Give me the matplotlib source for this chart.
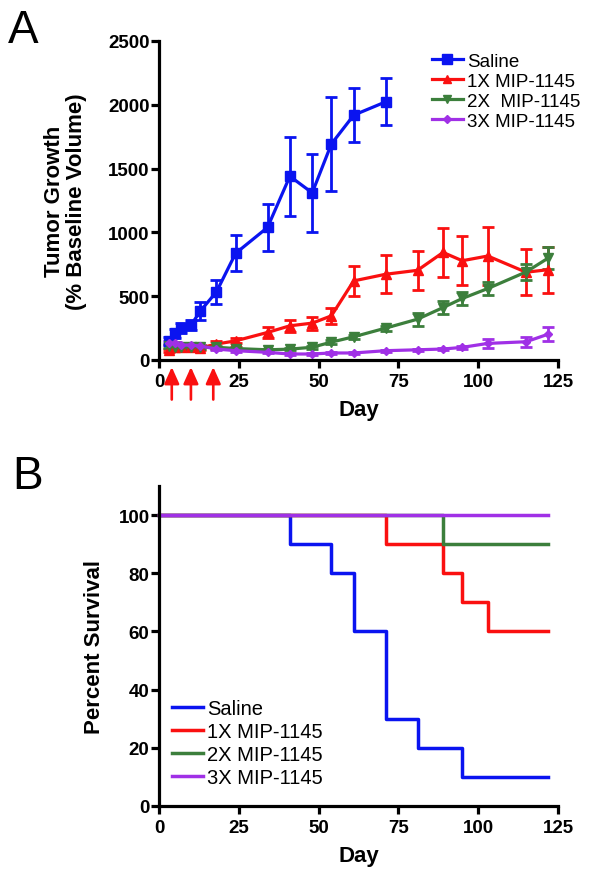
import matplotlib
matplotlib.use("Agg")
import matplotlib.pyplot as plt
from matplotlib.lines import Line2D

plt.rcParams['font.family'] = ['Liberation Sans', 'DejaVu Sans']

# ---------------- Data ----------------
days = [3, 5, 7, 10, 13, 18, 24, 34, 41, 48, 54, 61, 71, 81, 89, 95, 103, 115, 122]
saline_days = [3, 5, 7, 10, 13, 18, 24, 34, 41, 48, 54, 61, 71]
saline_mean = [150, 210, 250, 273, 385, 534, 836, 1039, 1440, 1310, 1693, 1919, 2023]
saline_err = [30, 35, 40, 40, 72, 95, 140, 185, 310, 305, 370, 210, 185]

mip1_mean = [75, 100, 105, 100, 95, 125, 150, 216, 268, 289, 346, 620, 672, 703, 843, 778, 815, 688, 708]
mip1_err = [10, 15, 20, 20, 20, 20, 20, 40, 45, 50, 60, 115, 150, 155, 195, 190, 225, 180, 180]

mip2_mean = [110, 105, 100, 105, 100, 100, 90, 80, 85, 100, 140, 182, 250, 320, 411, 482, 560, 690, 800]
mip2_err = [15, 15, 15, 15, 15, 10, 10, 10, 10, 10, 15, 15, 20, 50, 52, 52, 50, 60, 85]

mip3_mean = [133, 130, 117, 117, 109, 86, 73, 60, 47, 47, 55, 55, 73, 80, 86, 99, 130, 143, 203]
mip3_err = [15, 12, 10, 10, 10, 10, 10, 8, 8, 8, 8, 8, 8, 8, 8, 10, 38, 40, 55]

dose_days = [4, 10, 17]

# Survival (Kaplan-Meier step data)
saline_surv_t = [0, 41, 54, 61, 71, 81, 95, 122]
saline_surv = [100, 90, 80, 60, 30, 20, 10, 10]
mip1_surv_t = [0, 71, 89, 95, 103, 122]
mip1_surv = [100, 90, 80, 70, 60, 60]
mip2_surv_t = [0, 89, 122]
mip2_surv = [100, 90, 90]
mip3_surv_t = [0, 122]
mip3_surv = [100, 100]

labels_a = ['Saline', '1X MIP-1145', '2X  MIP-1145', '3X MIP-1145']
labels_b = ['Saline', '1X MIP-1145', '2X MIP-1145', '3X MIP-1145']
colors = ['#0A14F0', '#FA1010', '#3C7F3C', '#A030E6']
markers = ['s', '^', 'v', 'D']
msizes = [7.5, 6.5, 6.5, 4.5]

W, H = 597, 878
fig = plt.figure(figsize=(W / 100, H / 100), dpi=100)
axA = fig.add_axes([159 / W, 1 - 361 / H, 399 / W, 319 / H])
axB = fig.add_axes([159 / W, 1 - 807 / H, 399 / W, 320 / H])


def style(ax):
    for s in ['top', 'right']:
        ax.spines[s].set_visible(False)
    for s in ['left', 'bottom']:
        ax.spines[s].set_linewidth(2.3)
    ax.tick_params(direction='out', length=6, width=2.3, labelsize=13.5)
    ax.tick_params(axis='x', pad=3.5)
    ax.tick_params(axis='y', pad=0.8)
    for lab in ax.get_xticklabels() + ax.get_yticklabels():
        lab.set_fontweight('bold')


# ---------------- Panel A ----------------
series = [(saline_days, saline_mean, saline_err),
          (days, mip1_mean, mip1_err),
          (days, mip2_mean, mip2_err),
          (days, mip3_mean, mip3_err)]
for (x, y, e), c, m, ms in zip(series, colors, markers, msizes):
    axA.errorbar(x, y, yerr=e, color=c, marker=m, markersize=ms, lw=2.3,
                 elinewidth=2.0, capsize=4.5, capthick=2.0, clip_on=False)
axA.set_xlim(0, 125)
axA.set_ylim(0, 2500)
axA.set_xticks([0, 25, 50, 75, 100, 125])
axA.set_yticks([0, 500, 1000, 1500, 2000, 2500])
style(axA)
axA.set_xlabel('Day', fontsize=16, fontweight='bold', labelpad=6)
axA.set_ylabel('Tumor Growth\n(% Baseline Volume)', fontsize=16,
               fontweight='bold', linespacing=1.1)
axA.yaxis.set_label_coords(-0.18, 0.5)

handles_a = [Line2D([], [], color=c, marker=m, markersize=ms * 0.9, lw=2.3)
             for c, m, ms in zip(colors, markers, msizes)]
axA.legend(handles_a, labels_a, loc='upper left',
           bbox_to_anchor=(424 / W, 1 - 46 / H), bbox_transform=fig.transFigure,
           frameon=False, fontsize=13.5, handlelength=1.7, handletextpad=0.2,
           labelspacing=0.16, borderaxespad=0)

for d in dose_days:
    axA.annotate('', xy=(d, -0.022), xytext=(d, -0.124),
                 xycoords=axA.get_xaxis_transform(),
                 textcoords=axA.get_xaxis_transform(),
                 arrowprops=dict(arrowstyle='-|>,head_width=0.45,head_length=1.0',
                                 color='#FA1010', lw=1.9, mutation_scale=10,
                                 shrinkA=0, shrinkB=0),
                 annotation_clip=False)

# ---------------- Panel B ----------------
surv = [(saline_surv_t, saline_surv), (mip1_surv_t, mip1_surv),
        (mip2_surv_t, mip2_surv), (mip3_surv_t, mip3_surv)]
for (t, s), c in zip(surv, colors):
    axB.step(t, s, where='post', color=c, lw=2.5, clip_on=False)
axB.set_xlim(0, 125)
axB.set_ylim(0, 110)
axB.set_xticks([0, 25, 50, 75, 100, 125])
axB.set_yticks([0, 20, 40, 60, 80, 100])
style(axB)
axB.set_xlabel('Day', fontsize=16, fontweight='bold', labelpad=6)
axB.set_ylabel('Percent Survival', fontsize=16, fontweight='bold')
axB.yaxis.set_label_coords(-0.135, 0.5)

handles_b = [Line2D([], [], color=c, lw=2.5) for c in colors]
axB.legend(handles_b, labels_b, loc='upper left',
           bbox_to_anchor=(164 / W, 1 - 692 / H), bbox_transform=fig.transFigure,
           frameon=False, fontsize=14.5, handlelength=1.55, handletextpad=0.2,
           labelspacing=0.2, borderaxespad=0)

fig.text(8 / W, 1 - 43 / H, 'A', fontsize=33, ha='left', va='baseline')
fig.text(12 / W, 1 - 489 / H, 'B', fontsize=33, ha='left', va='baseline')

fig.savefig('out.png', dpi=100)
